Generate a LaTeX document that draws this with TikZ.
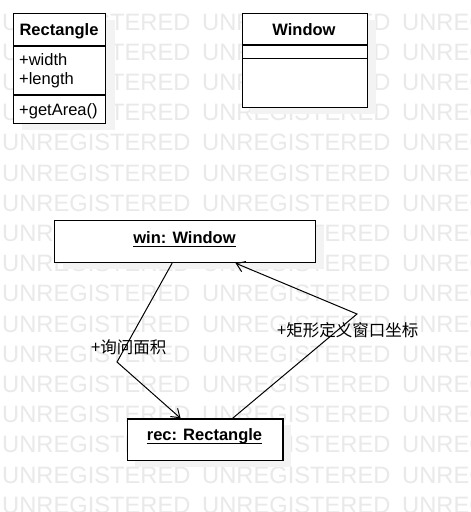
\documentclass[tikz,border=0pt]{standalone}
\usepackage{fontspec}
\setmainfont{Liberation Sans}
\newfontfamily\cjk{Noto Sans CJK SC}
\usetikzlibrary{arrows.meta}
\definecolor{wmgray}{RGB}{233,233,233}
\definecolor{shadowgray}{RGB}{243,243,243}
\begin{document}
\begin{tikzpicture}[x=1pt,y=-1pt,
  box/.style={draw=black,line width=1.2pt,fill=white,rectangle,inner sep=0pt,anchor=north west},
  lbl/.style={inner sep=0pt,font=\fontsize{16.5}{19}\selectfont},
  cjklbl/.style={inner sep=0pt,anchor=west,font=\cjk\fontsize{16.5}{19}\selectfont},
  wm/.style={inner sep=0pt,anchor=base west,text=wmgray,font=\fontsize{23.7}{26}\selectfont},
  conn/.style={line width=1pt,draw=black},
  tip/.style={-{Straight Barb[length=8pt,width=11pt,line width=1pt]}}]
\useasboundingbox (0,0) rectangle (471,512);
\fill[white] (0,0) rectangle (471,512);
% watermark
\foreach \k in {0,...,16} {
  \foreach \j in {0,1,2} {
    \node[wm] (wm-\k-\j) at ({2+200*\j},{30+30.2*\k}) {UNREGISTERED};
  }
}
% shadows
\fill[shadowgray] (22,20) rectangle (115,130);
\fill[shadowgray] (250,20) rectangle (376,114);
\fill[shadowgray] (63,227) rectangle (324,269);
\fill[shadowgray] (135,425) rectangle (291,467);
% Rectangle class
\node[box,minimum width=92pt,minimum height=110pt] (rectcls) at (13,13) {};
\draw[line width=1.2pt] (13,46) -- (105,46);
\draw[line width=1.2pt] (13,95) -- (105,95);
\node[lbl,anchor=base] (rectname) at (59,35.5) {\bfseries Rectangle};
\node[lbl,anchor=base west] (attrw) at (19,65) {+width};
\node[lbl,anchor=base west] (attrl) at (19,84.5) {+length};
\node[lbl,anchor=base west] (opga) at (19,115) {+getArea()};
% Window class
\node[box,minimum width=125pt,minimum height=94pt] (wincls) at (241.7,12.7) {};
\draw[line width=1.2pt] (241.7,45) -- (366.7,45);
\draw[line width=1.2pt] (241.7,58.3) -- (366.7,58.3);
\node[lbl,anchor=base] (winname) at (304,35) {\bfseries Window};
% objects
\node[box,minimum width=261pt,minimum height=42pt] (win) at (54,220) {};
\node[lbl,anchor=base] (winlbl) at (184.5,243.3) {\bfseries win: Window};
\draw[line width=1pt] ([yshift=-3.5pt]winlbl.base west) -- ([yshift=-3.5pt]winlbl.base east);
\node[box,minimum width=155.6pt,minimum height=41.7pt] (rec) at (126.7,418.3) {};
\node[lbl,anchor=base] (reclbl) at (204.5,440) {\bfseries rec: Rectangle};
\draw[line width=1pt] ([yshift=-3.5pt]reclbl.base west) -- ([yshift=-3.5pt]reclbl.base east);
% connectors
\coordinate (b1) at (117,362);
\coordinate (b2) at (357,314);
\draw[conn,tip] ([xshift=-13pt]win.south) -- (b1) -- ([xshift=-24.5pt]rec.north);
\draw[conn,tip] ([xshift=27.5pt]rec.north) -- (b2) -- ([xshift=50.5pt]win.south);
\node[cjklbl] (lbl1) at (91,347) {+询问面积};
\node[cjklbl] (lbl2) at (277,330) {+矩形定义窗口坐标};
\end{tikzpicture}
\end{document}
